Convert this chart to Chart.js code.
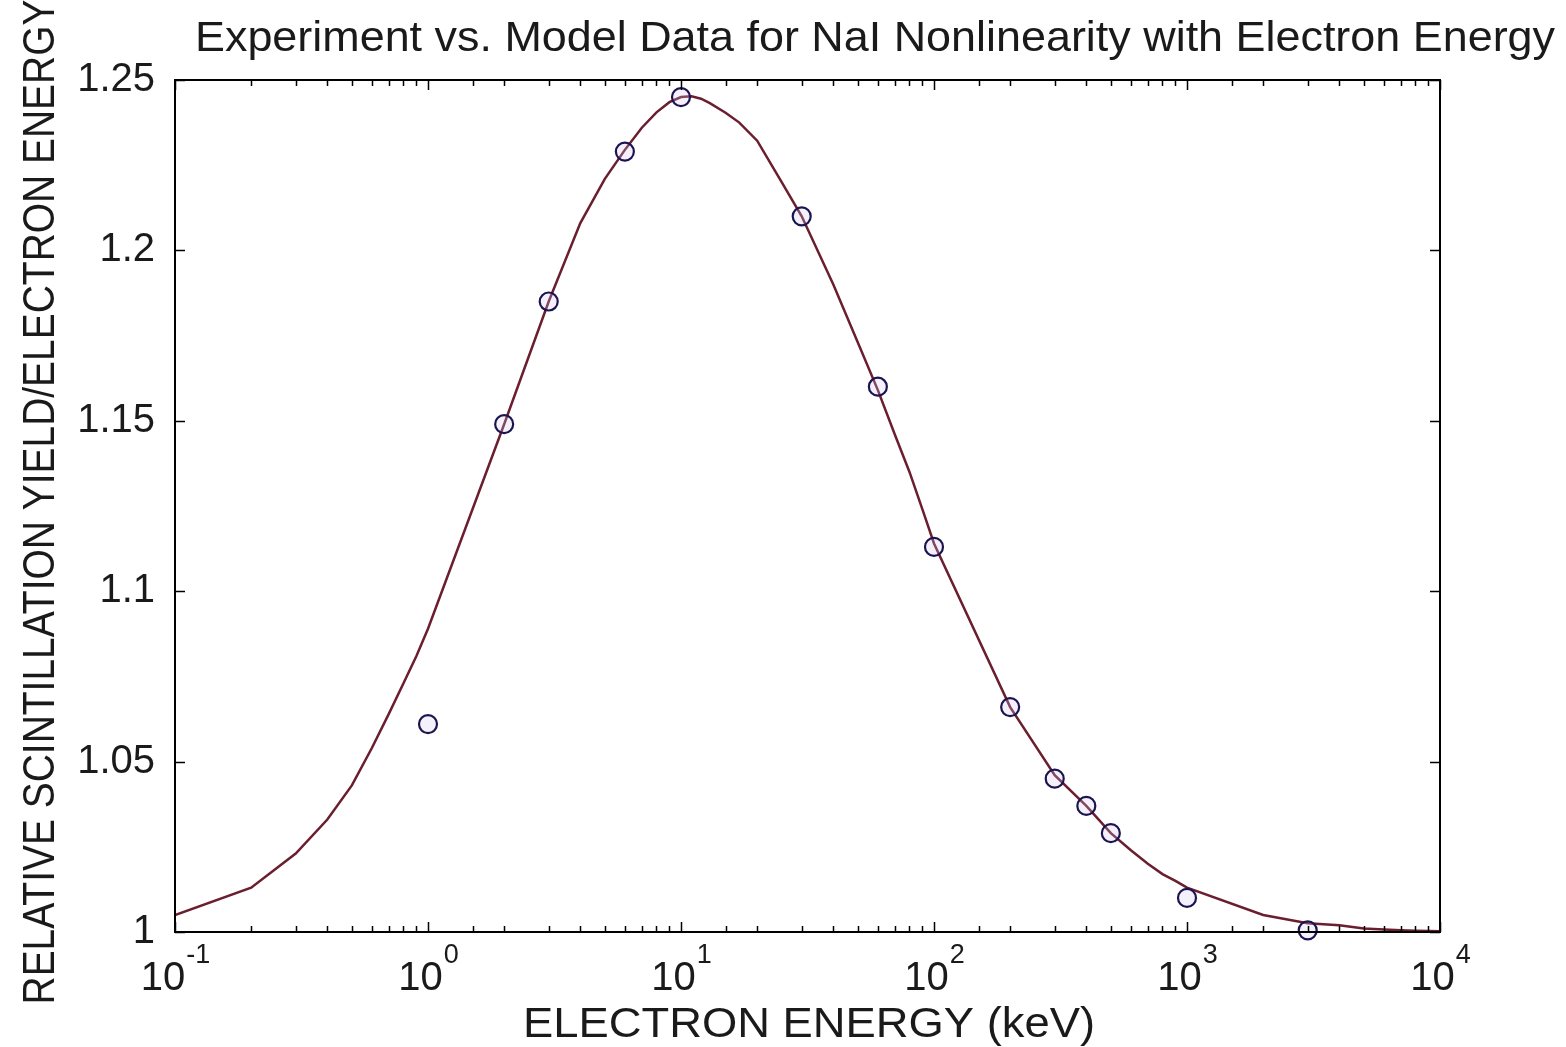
<!DOCTYPE html>
<html>
<head>
<meta charset="utf-8">
<title>NaI Nonlinearity</title>
<script src="https://cdn.jsdelivr.net/npm/chart.js@4.4.1/dist/chart.umd.min.js"></script>
<style>
  html, body { margin: 0; padding: 0; background: #fff; }
  #wrap { width: 1566px; height: 1047px; }
</style>
</head>
<body>
<div id="wrap"><canvas id="nai" width="1566" height="1047"></canvas></div>
<script>
// model curve, sampled at 1..9 x 10^k keV (extra samples around the peak)
const modelEnergy = [
  0.1, 0.2, 0.3, 0.4, 0.5, 0.6, 0.7, 0.8, 0.9,
  1, 2, 3, 4, 5, 6, 7, 8, 9,
  10, 11, 12, 13, 15, 17, 20, 25, 30, 40, 50, 60, 70, 80, 90,
  100, 200, 300, 400, 500, 600, 700, 800, 900,
  1000, 2000, 3000, 4000, 5000, 6000, 7000, 8000, 9000,
  10000
];
const modelYield = [
  1.005, 1.013, 1.023, 1.033, 1.043, 1.054, 1.064, 1.073, 1.081,
  1.089, 1.149, 1.185, 1.208, 1.221, 1.2295, 1.236, 1.2405, 1.2435,
  1.2450, 1.2452, 1.2445, 1.2432, 1.2404, 1.2375, 1.2322, 1.2200, 1.210, 1.190, 1.173, 1.159, 1.146, 1.135, 1.124,
  1.114, 1.066, 1.046, 1.037, 1.029, 1.024, 1.020, 1.017, 1.015,
  1.013, 1.005, 1.0026, 1.002, 1.001, 1.0007, 1.0005, 1.0004, 1.0003,
  1.0002
];

// measured points
const expEnergy = [1, 2, 3, 6, 10, 30, 60, 100, 200, 300, 400, 500, 1000, 3000];
const expYield = [1.061, 1.149, 1.185, 1.229, 1.245, 1.210, 1.160, 1.113, 1.066, 1.045, 1.037, 1.029, 1.010, 1.0005];

const yTicks = [1, 1.05, 1.1, 1.15, 1.2, 1.25];

const titleText = "Experiment vs. Model Data for NaI Nonlinearity with Electron Energy";
const xTitle = "ELECTRON ENERGY (keV)";
const yTitle = "RELATIVE SCINTILLATION YIELD/ELECTRON ENERGY";

const FONT = '"Liberation Sans", Arial, Helvetica, sans-serif';
const INK = "#1a1a1a";

function zip(xs, ys) {
  return xs.map((x, i) => ({ x: x, y: ys[i] }));
}

function isDecade(v) {
  const e = Math.log10(v);
  return Math.abs(e - Math.round(e)) < 1e-9;
}

// draws a string squeezed/stretched to a given width
function fitText(ctx, text, x, y, size, width, angle) {
  ctx.save();
  ctx.translate(x, y);
  ctx.rotate(angle || 0);
  ctx.font = size + "px " + FONT;
  const w = ctx.measureText(text).width;
  ctx.scale(width / w, 1);
  ctx.textAlign = "center";
  ctx.textBaseline = "alphabetic";
  ctx.fillStyle = INK;
  ctx.fillText(text, 0, 0);
  ctx.restore();
}

// box, inward ticks, decade labels and titles
const frame = {
  id: "frame",
  afterDraw(chart) {
    const ctx = chart.ctx;
    const ca = chart.chartArea;
    const xs = chart.scales.x;
    const ys = chart.scales.y;

    ctx.save();
    ctx.strokeStyle = "#000";
    ctx.lineWidth = 1.5;
    ctx.beginPath();
    xs.ticks.forEach(t => {
      const px = Math.round(xs.getPixelForValue(t.value)) + 0.5;
      const len = isDecade(t.value) ? 10 : 6;
      ctx.moveTo(px, ca.bottom);
      ctx.lineTo(px, ca.bottom - len);
      ctx.moveTo(px, ca.top);
      ctx.lineTo(px, ca.top + len);
    });
    ys.ticks.forEach(t => {
      const py = Math.round(ys.getPixelForValue(t.value)) + 0.5;
      ctx.moveTo(ca.left, py);
      ctx.lineTo(ca.left + 10, py);
      ctx.moveTo(ca.right, py);
      ctx.lineTo(ca.right - 10, py);
    });
    ctx.stroke();

    ctx.lineWidth = 2;
    ctx.strokeRect(ca.left, ca.top, ca.right - ca.left, ca.bottom - ca.top);

    // 10^n labels
    ctx.fillStyle = INK;
    ctx.textAlign = "left";
    ctx.textBaseline = "alphabetic";
    xs.ticks.filter(t => isDecade(t.value)).forEach(t => {
      const px = xs.getPixelForValue(t.value);
      const exp = String(Math.round(Math.log10(t.value)));
      ctx.font = "40px " + FONT;
      const wb = ctx.measureText("10").width;
      ctx.font = "27px " + FONT;
      const we = ctx.measureText(exp).width;
      const x0 = px - (wb + we) / 2;
      ctx.font = "40px " + FONT;
      ctx.fillText("10", x0, 990);
      ctx.font = "27px " + FONT;
      ctx.fillText(exp, x0 + wb + 1, 963);
    });
    ctx.restore();

    fitText(ctx, titleText, 875, 51, 42, 1360, 0);
    fitText(ctx, xTitle, 809, 1037, 42, 572, 0);
    fitText(ctx, yTitle, 54, 502, 44, 1005, -Math.PI / 2);
  }
};

new Chart(document.getElementById("nai"), {
  type: "scatter",
  data: {
    datasets: [
      {
        label: "Experiment",
        data: zip(expEnergy, expYield),
        showLine: false,
        pointStyle: "circle",
        pointRadius: 9,
        pointBorderWidth: 2.2,
        pointBorderColor: "#1c1450",
        pointBackgroundColor: "rgba(210, 200, 245, 0.25)",
        clip: false
      },
      {
        label: "Model",
        data: zip(modelEnergy, modelYield),
        showLine: true,
        tension: 0,
        borderColor: "#6a1e2e",
        borderWidth: 2.5,
        pointRadius: 0
      }
    ]
  },
  plugins: [frame],
  options: {
    responsive: false,
    animation: false,
    layout: { padding: { left: 0, top: 80, right: 126, bottom: 0 } },
    plugins: {
      legend: { display: false },
      title: { display: false },
      tooltip: { enabled: false }
    },
    scales: {
      x: {
        type: "logarithmic",
        min: 0.1,
        max: 10000,
        grid: { display: false },
        border: { display: false },
        ticks: { display: false },
        afterFit(scale) { scale.height = 115; }
      },
      y: {
        type: "linear",
        min: 1,
        max: 1.25,
        grid: { display: false },
        border: { display: false },
        afterBuildTicks(scale) {
          scale.ticks = yTicks.map(v => ({ value: v }));
        },
        ticks: {
          padding: 12,
          color: INK,
          font: { family: FONT, size: 40 },
          callback: v => String(+Number(v).toFixed(2))
        },
        afterFit(scale) { scale.width = 175; }
      }
    }
  }
});
</script>
</body>
</html>
